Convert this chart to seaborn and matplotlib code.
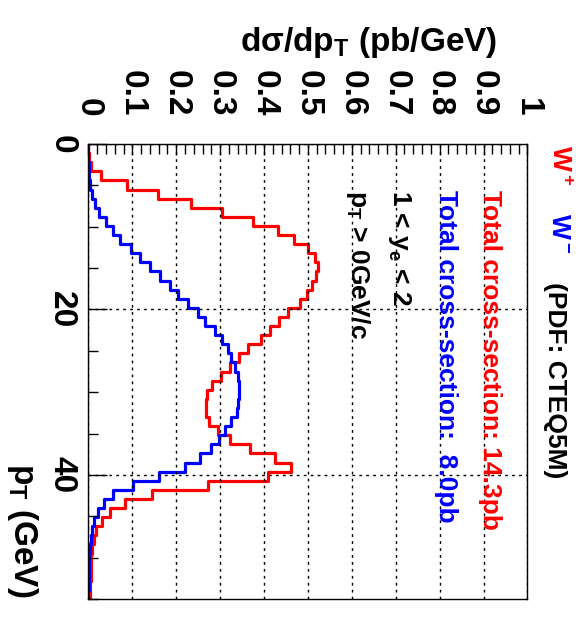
import numpy as np
import pandas as pd
import matplotlib
matplotlib.use("Agg")
import matplotlib.pyplot as plt
import seaborn as sns
from matplotlib.ticker import MultipleLocator

# ---- data ----
pt_min, pt_max, n_bins = 0.0, 55.0, 50
w_plus = [0.000, 0.001, 0.005, 0.029, 0.087, 0.158, 0.234, 0.304, 0.376, 0.432,
          0.469, 0.500, 0.516, 0.523, 0.519, 0.509, 0.497, 0.482, 0.455, 0.434,
          0.414, 0.393, 0.364, 0.343, 0.323, 0.303, 0.282, 0.270, 0.267, 0.267,
          0.275, 0.295, 0.322, 0.369, 0.425, 0.461, 0.410, 0.273, 0.146, 0.084,
          0.050, 0.030, 0.018, 0.012, 0.009, 0.007, 0.006, 0.005, 0.004, 0.003]
w_minus = [0.000, 0.000, 0.001, 0.002, 0.004, 0.008, 0.014, 0.024, 0.039, 0.056,
           0.072, 0.096, 0.118, 0.140, 0.162, 0.185, 0.205, 0.226, 0.250, 0.265,
           0.289, 0.305, 0.317, 0.325, 0.335, 0.340, 0.342, 0.342, 0.341, 0.339,
           0.325, 0.311, 0.298, 0.279, 0.254, 0.220, 0.160, 0.102, 0.057, 0.035,
           0.021, 0.013, 0.008, 0.005, 0.003, 0.002, 0.001, 0.001, 0.001, 0.000]
value_ticks = [0, 0.1, 0.2, 0.3, 0.4, 0.5, 0.6, 0.7, 0.8, 0.9, 1]
value_labels = ["0", "0.1", "0.2", "0.3", "0.4", "0.5", "0.6", "0.7", "0.8", "0.9", "1"]
pt_ticks = [0, 20, 40]
pt_labels = ["0", "20", "40"]

edges = np.linspace(pt_min, pt_max, n_bins + 1)
centers = 0.5 * (edges[:-1] + edges[1:])
df = pd.DataFrame({"pt": centers, "wplus": w_plus, "wminus": w_minus})

sns.set_style("white")
plt.rcParams["font.family"] = ["Liberation Sans", "DejaVu Sans"]
plt.rcParams["font.weight"] = "bold"
plt.rcParams["mathtext.default"] = "regular"
plt.rcParams["text.color"] = "black"
plt.rcParams["xtick.color"] = "black"
plt.rcParams["ytick.color"] = "black"
plt.rcParams["axes.edgecolor"] = "black"

W, H = 576, 619
fig = plt.figure(figsize=(W / 100, H / 100), dpi=100)
L, R, T, B = 88.4, 527.4, 144, 599
ax = fig.add_axes([L / W, 1 - B / H, (R - L) / W, (B - T) / H])

sns.histplot(data=df, y="pt", weights="wplus", bins=n_bins, binrange=(pt_min, pt_max),
             element="step", fill=False, color="#ff0000", linewidth=2.3, ax=ax)
sns.histplot(data=df, y="pt", weights="wminus", bins=n_bins, binrange=(pt_min, pt_max),
             element="step", fill=False, color="#0000ff", linewidth=2.3, ax=ax)

ax.set_xlim(0, 1)
ax.set_ylim(pt_max, pt_min)
ax.set_xlabel("")
ax.set_ylabel("")

for s in ax.spines.values():
    s.set_linewidth(1.0)
    s.set_color("black")

# value axis on top
ax.xaxis.tick_top()
ax.set_xticks(value_ticks, labels=value_labels)
ax.xaxis.set_minor_locator(MultipleLocator(0.02))
ax.tick_params(axis="x", which="both", direction="in", top=True, bottom=False,
               labeltop=True, labelbottom=False, colors="black")
ax.tick_params(axis="x", which="major", length=8, width=1, pad=20)
ax.tick_params(axis="x", which="minor", length=7, width=1)
for lab in ax.get_xticklabels():
    lab.set_rotation(-90)
    lab.set_fontsize(24)
    lab.set_fontweight("bold")
    lab.set_color("black")

ax.set_yticks(pt_ticks, labels=pt_labels)
ax.yaxis.set_minor_locator(MultipleLocator(5))
ax.tick_params(axis="y", which="both", direction="in", left=True, right=False,
               colors="black")
ax.tick_params(axis="y", which="major", length=14, width=1, pad=8)
ax.tick_params(axis="y", which="minor", length=7, width=1)
for lab in ax.get_yticklabels():
    lab.set_rotation(-90)
    lab.set_va("center")
    lab.set_fontsize(24)
    lab.set_fontweight("bold")
    lab.set_color("black")

ax.grid(True, which="major", color="black", linestyle=(0, (2, 3)), linewidth=1.0)
ax.set_axisbelow(False)


def P(x, y):
    return x / W, 1 - y / H


fig.text(*P(497, 42), "d\u03c3/dp$_T$ (pb/GeV)", ha="right", va="center",
         fontsize=24, weight="bold", color="black")
fig.text(*P(22, 597), "p$_T$ (GeV)", rotation=-90, ha="center", va="bottom",
         fontsize=24, weight="bold", color="black")

kw = dict(rotation=-90, ha="center", va="top", fontsize=19, weight="bold")
fig.text(*P(559, 145), "W$^+$", color="#ff0000", **kw)
fig.text(*P(559, 213), "W$^-$", color="#0000ff", **kw)
fig.text(*P(555, 282), "(PDF: CTEQ5M)", color="black", **kw)
fig.text(*P(490, 190), "Total cross-section: 14.3pb", color="#ff0000", **kw)
fig.text(*P(446, 190), "Total cross-section:  8.0pb", color="#0000ff", **kw)
fig.text(*P(399, 190), "1 < y$_e$ < 2", color="black", **kw)
fig.text(*P(358, 190), "p$_T$ > 0GeV/c", color="black", **kw)

fig.savefig("out.png", dpi=100)
